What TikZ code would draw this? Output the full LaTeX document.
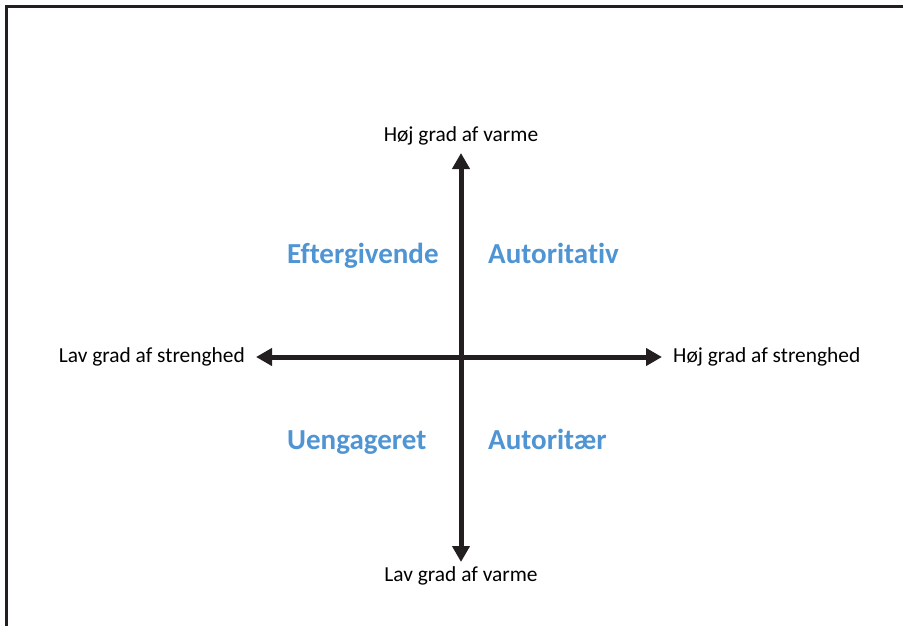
\documentclass[tikz,border=0pt]{standalone}
\usepackage{fontspec}
\setmainfont{Carlito}[RawFeature=-liga]
\usetikzlibrary{arrows.meta,positioning}
\definecolor{framegray}{HTML}{231F20}
\definecolor{styleblue}{HTML}{4F94D3}
\tikzset{
  axis/.style={line width=5pt, color=framegray,
    {Triangle[length=16pt,width=17pt]}-{Triangle[length=16pt,width=17pt]}},
  axislabel/.style={inner sep=0pt, font=\fontsize{21.4}{25}\selectfont},
  quadlabel/.style={inner sep=0pt, text=styleblue, font=\fontsize{29}{33}\selectfont\bfseries},
}
\begin{document}
\begin{tikzpicture}[x=1pt, y=-1pt]
  %%%%% START %%%%%
  \useasboundingbox (0,0) rectangle (903,626);
  \clip (0,0) rectangle (903,626);

  % frame, open to the right and bottom
  \draw[line width=3pt, color=framegray] (910,6.5) -- (6.5,6.5) -- (6.5,640);

  % axis ends
  \coordinate (north) at (461,153);
  \coordinate (south) at (461,562);
  \coordinate (west) at (256,357);
  \coordinate (east) at (662,357);

  \draw[axis] (south) -- (north);
  \draw[axis] (west) -- (east);

  % axis labels
  \node[axislabel, above=8pt of north] (highwarm) {Høj grad af varme};
  \node[axislabel, below=4pt of south] (lowwarm) {Lav grad af varme};
  \node[axislabel, left=11pt of west] (lowstrict) {Lav grad af strenghed};
  \node[axislabel, right=11pt of east] (highstrict) {Høj grad af strenghed};

  % quadrants
  \node[quadlabel, anchor=base west] (permissive) at (287,263) {Eftergivende};
  \node[quadlabel, anchor=base west] (authoritative) at (488,263) {Autoritativ};
  \node[quadlabel, anchor=base west] (neglectful) at (287,449) {Uengageret};
  \node[quadlabel, anchor=base west] (authoritarian) at (488,449) {Autoritær};

  %%%%% END %%%%%
\end{tikzpicture}
\end{document}
